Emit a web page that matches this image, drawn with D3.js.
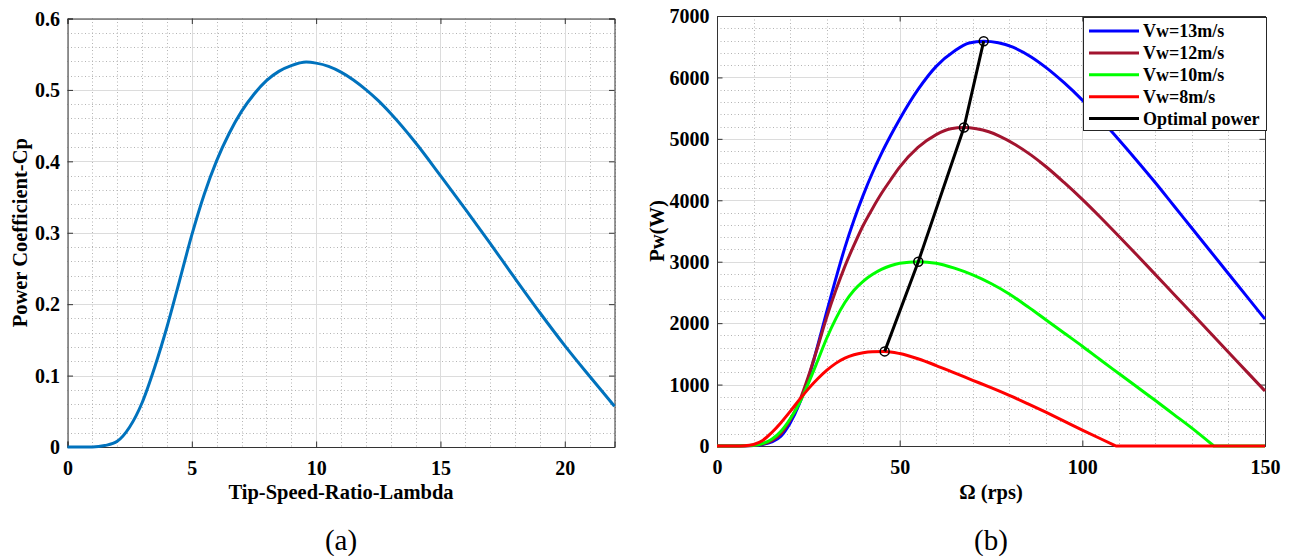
<!DOCTYPE html>
<html><head><meta charset="utf-8">
<script src="https://cdn.jsdelivr.net/npm/d3@7"></script>
<style>
body{margin:0;background:#fff;}
text{font-family:"Liberation Serif","Times New Roman",serif;}
</style></head><body>
<svg id="c" width="1296" height="556"></svg>
<script>
// ---------- Data: panel (a) ----------
const lambda = [0,1,1.5,2,2.5,3,3.5,4,4.5,5,5.5,6,6.5,7,7.5,8,8.5,9,9.6,10,10.5,11,11.5,12,12.5,13,14,15,16,17,18,19,20,21,22];
const cp = [0,0,0.002,0.008,0.028,0.062,0.111,0.168,0.232,0.297,0.354,0.401,0.439,0.470,0.494,0.513,0.526,0.534,0.539,0.5375,0.533,0.525,0.514,0.5005,0.485,0.467,0.426,0.380,0.333,0.285,0.236,0.188,0.142,0.099,0.057];
const lambdaTicks = [0,5,10,15,20];
const cpTicks = [0,0.1,0.2,0.3,0.4,0.5,0.6];

// ---------- Data: panel (b) ----------
const omega13 = [0,5,10,12.5,15,17.5,20,22.5,25,27.5,30,32.5,35,37.5,40,42.5,45,47.5,50,55,60,65,69,73,77,81,86,90,95,100,105,110,115,120,125,130,135,140,145,150];
const power13 = [0,0,8,25,65,160,370,680,1100,1620,2180,2720,3230,3680,4080,4440,4760,5050,5320,5800,6180,6430,6560,6590,6566,6492,6334,6164,5914,5631,5318,4985,4640,4285,3915,3545,3175,2805,2435,2065];
const omega12 = [0,5,10,12.5,15,17.5,20,22.5,25,27.5,30,32.5,35,37.5,40,42.5,45,47.5,50,55,60,64,67.6,71,74.4,77.3,81.7,86,90,95,100,105,110,115,120,125,130,135,140,145,150];
const power12 = [0,0,10,32,88,200,420,720,1130,1600,2090,2530,2925,3270,3590,3860,4110,4330,4540,4860,5070,5165,5185,5165,5115,5045,4905,4735,4550,4290,4015,3720,3415,3105,2790,2475,2160,1843,1526,1211,895];
const omega10 = [0,5,10,12.5,15,17.5,20,22.5,25,27.5,30,32.5,35,37.5,40,42.5,45,47.5,50,55.1,60,65,70,75,80,85,90,95,100,105,110,115,120,125,130,136,150];
const power10 = [0,0,12,40,110,240,440,690,1020,1380,1750,2070,2335,2535,2680,2790,2875,2935,2975,3000,2975,2895,2785,2645,2475,2270,2055,1840,1625,1400,1180,960,740,515,290,0,0];
const omega8 = [0,5,7.5,10,12.5,15,17.5,20,22.5,25,27.5,30,32.5,35,37.5,40,42.5,45.9,50,55,60,65,70,75,80,85,90,95,100,105,109.2,150];
const power8 = [0,1,5,25,90,220,380,560,750,930,1090,1230,1345,1430,1485,1518,1535,1540,1505,1420,1310,1190,1070,950,825,690,550,405,260,118,0,0];
const omegaOpt = [45.9,55.1,67.6,73.0];
const powerOpt = [1540,3000,5185,6590];
const seriesNames = ["Vw=13m/s","Vw=12m/s","Vw=10m/s","Vw=8m/s","Optimal power"];
const omegaTicks = [0,50,100,150];
const powerTicks = [0,1000,2000,3000,4000,5000,6000,7000];

const svg = d3.select("#c");

function drawAxes(x, y, xTicks, yTicks, xMinor, yMinor, yFmt, xTitle, yTitle, yTitleX, panelLabel) {
  const [x0, x1] = x.range();
  const [y0, y1] = y.range();
  const g = svg.append("g");
  xMinor.filter(v => !xTicks.includes(v)).forEach(v => {
    g.append("line").attr("x1", Math.round(x(v))+0.5).attr("x2", Math.round(x(v))+0.5)
      .attr("y1", y1).attr("y2", y0).attr("stroke", "#b4b4b4").attr("stroke-dasharray", "1,2.5").attr("stroke-width", 1);
  });
  yMinor.filter(v => !yTicks.some(t => Math.abs(t - v) < 1e-9)).forEach(v => {
    g.append("line").attr("y1", Math.round(y(v))+0.5).attr("y2", Math.round(y(v))+0.5)
      .attr("x1", x0).attr("x2", x1).attr("stroke", "#b4b4b4").attr("stroke-dasharray", "1,2.5").attr("stroke-width", 1);
  });
  xTicks.forEach(v => g.append("line").attr("x1", Math.round(x(v))+0.5).attr("x2", Math.round(x(v))+0.5)
    .attr("y1", y1).attr("y2", y0).attr("stroke", "#dcdcdc").attr("stroke-width", 1));
  yTicks.forEach(v => g.append("line").attr("y1", Math.round(y(v))+0.5).attr("y2", Math.round(y(v))+0.5)
    .attr("x1", x0).attr("x2", x1).attr("stroke", "#dcdcdc").attr("stroke-width", 1));
  const tl = 5.5;
  const axB = g.append("g").attr("transform", `translate(0,${y0})`)
    .call(d3.axisBottom(x).tickValues(xTicks).tickSize(-tl).tickPadding(14).tickFormat(d3.format("d")));
  const axT = g.append("g").attr("transform", `translate(0,${y1})`)
    .call(d3.axisTop(x).tickValues(xTicks).tickSize(-tl).tickFormat(""));
  const axL = g.append("g").attr("transform", `translate(${x0},0)`)
    .call(d3.axisLeft(y).tickValues(yTicks).tickSize(-tl).tickPadding(7.5).tickFormat(yFmt));
  const axR = g.append("g").attr("transform", `translate(${x1},0)`)
    .call(d3.axisRight(y).tickValues(yTicks).tickSize(-tl).tickFormat(""));
  [axB, axT, axL, axR].forEach(a => {
    a.select(".domain").attr("stroke", "#333").attr("stroke-width", 1);
    a.selectAll(".tick line").attr("stroke", "#333");
    a.selectAll("text").attr("font-family", '"Liberation Serif",serif').attr("font-weight", "bold")
      .attr("font-size", 20).attr("fill", "#000");
  });
  axB.selectAll("text").attr("dy", "0.71em");
  axL.selectAll("text").attr("dy", "0.34em");
  svg.append("text").attr("x", (x0 + x1) / 2).attr("y", 499).attr("text-anchor", "middle")
    .attr("font-weight", "bold").attr("font-size", 20.5).text(xTitle);
  svg.append("text").attr("transform", `translate(${yTitleX},${(y0 + y1) / 2}) rotate(-90)`)
    .attr("text-anchor", "middle").attr("font-weight", "bold").attr("font-size", 20.5).text(yTitle);
  svg.append("text").attr("x", (x0 + x1) / 2).attr("y", 550).attr("text-anchor", "middle")
    .attr("font-size", 29).text(panelLabel);
}

// ---------- Panel (a) ----------
const xa = d3.scaleLinear().domain([0, 22]).range([67.5, 614.5]);
const ya = d3.scaleLinear().domain([0, 0.6]).range([447, 18.5]);
drawAxes(xa, ya, lambdaTicks, cpTicks, d3.range(0, 23, 1), d3.range(0, 0.6001, 0.02),
  d3.format("~g"), "Tip-Speed-Ratio-Lambda", "Power Coefficient-Cp", 27, "(a)");
const lineA = d3.line().x((d, i) => xa(lambda[i])).y((d, i) => ya(cp[i])).curve(d3.curveMonotoneX);
svg.append("path").attr("d", lineA(cp)).attr("fill", "none").attr("stroke", "#0072BD").attr("stroke-width", 3);

// ---------- Panel (b) ----------
const xb = d3.scaleLinear().domain([0, 150]).range([717, 1265]);
const yb = d3.scaleLinear().domain([0, 7000]).range([446, 16]);
drawAxes(xb, yb, omegaTicks, powerTicks, d3.range(0, 151, 10), d3.range(0, 7001, 200),
  d3.format("d"), "Ω (rps)", "Pw(W)", 664, "(b)");
const series = [
  {om: omega13, p: power13, color: "#0000FF"},
  {om: omega12, p: power12, color: "#A2142F"},
  {om: omega10, p: power10, color: "#00FF00"},
  {om: omega8, p: power8, color: "#FF0000"}
];
series.forEach(s => {
  const pts = s.om.map((o, i) => [o, s.p[i]]);
  const iMax = d3.maxIndex(s.p);
  let k = pts.findIndex((d, i) => i > iMax && d[1] === 0);
  if (k < 0) k = pts.length - 1;
  const smooth = d3.line().x(d => xb(d[0])).y(d => yb(d[1])).curve(d3.curveMonotoneX);
  const straight = d3.line().x(d => xb(d[0])).y(d => yb(d[1]));
  let d = smooth(pts.slice(0, k + 1));
  if (k < pts.length - 1) d += straight(pts.slice(k)).replace(/^M/, "L");
  svg.append("path").attr("d", d).attr("fill", "none").attr("stroke", s.color).attr("stroke-width", 3)
    .attr("stroke-linejoin", "round");
});
const lnOpt = d3.line().x((d, i) => xb(omegaOpt[i])).y((d, i) => yb(powerOpt[i]));
svg.append("path").attr("d", lnOpt(powerOpt)).attr("fill", "none").attr("stroke", "#000").attr("stroke-width", 3);
svg.selectAll(".opt").data(powerOpt).enter().append("circle")
  .attr("cx", (d, i) => xb(omegaOpt[i])).attr("cy", d => yb(d)).attr("r", 4.5)
  .attr("fill", "none").attr("stroke", "#000").attr("stroke-width", 1.5);

// legend
const colors = ["#0000FF", "#A2142F", "#00FF00", "#FF0000", "#000000"];
const lg = svg.append("g");
lg.append("rect").attr("x", 1083.5).attr("y", 17.5).attr("width", 183).attr("height", 113)
  .attr("fill", "#fff").attr("stroke", "#262626").attr("stroke-width", 1);
seriesNames.forEach((n, i) => {
  const yy = 31 + i * 21.9;
  lg.append("line").attr("x1", 1089).attr("x2", 1139).attr("y1", yy).attr("y2", yy)
    .attr("stroke", colors[i]).attr("stroke-width", 3);
  lg.append("text").attr("x", 1143).attr("y", yy + 6).attr("font-weight", "bold").attr("font-size", 18).text(n);
});
</script>
</body></html>
